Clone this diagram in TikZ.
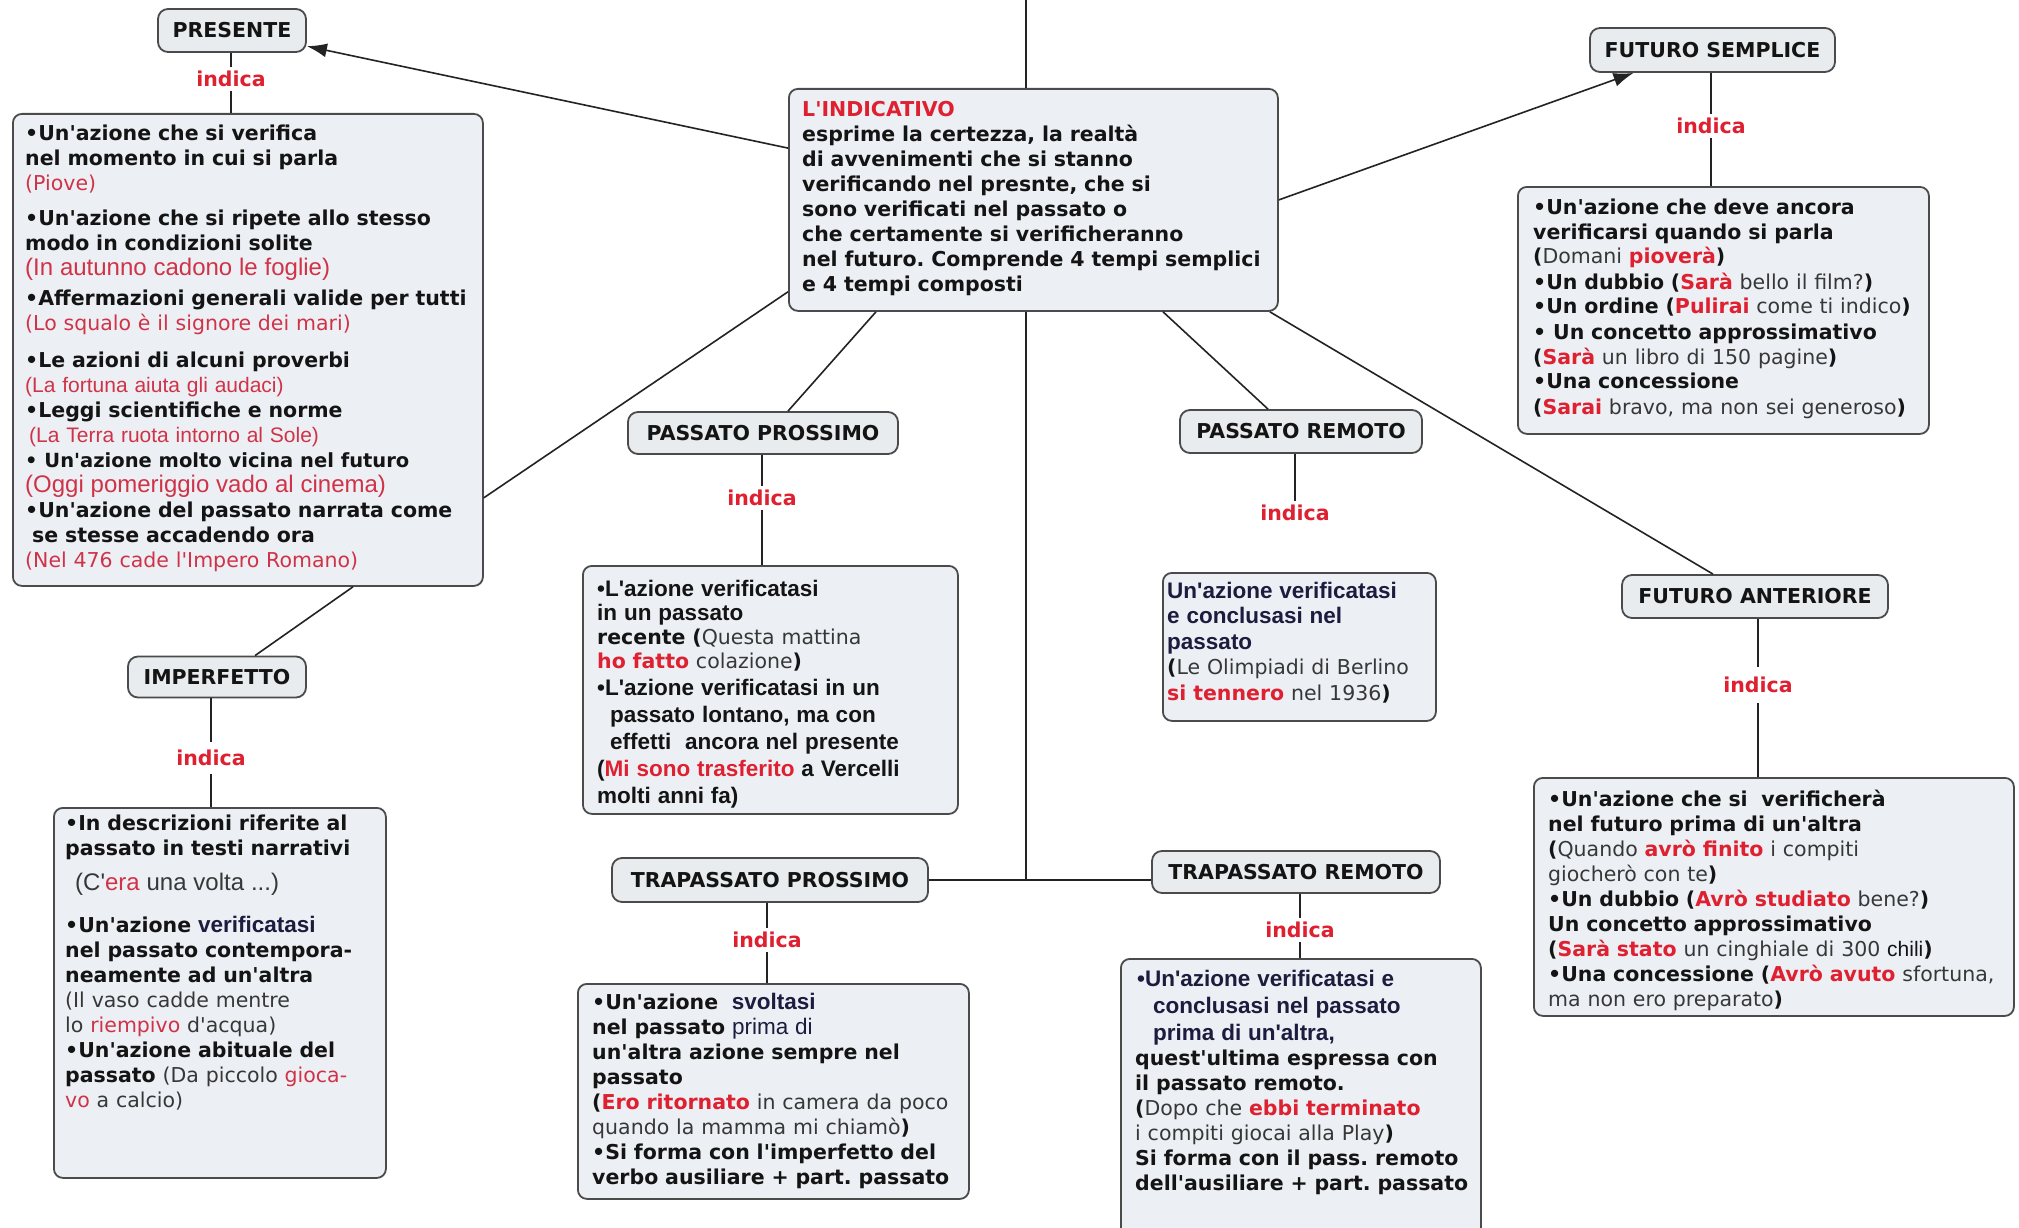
\documentclass[tikz,border=0pt]{standalone}
\usepackage{fontspec}
\setmainfont{DejaVu Sans}[Ligatures=TeXOff]
\newfontfamily\arfont{Liberation Sans}[Ligatures=TeXOff]
\usetikzlibrary{arrows.meta,calc}
\frenchspacing
\definecolor{rd}{RGB}{222,32,48}
\definecolor{rdl}{RGB}{208,50,72}
\definecolor{gtx}{RGB}{55,55,55}
\definecolor{nv}{RGB}{28,28,62}
\definecolor{txtc}{RGB}{20,20,20}
\definecolor{boxfill}{RGB}{236,240,244}
\definecolor{cfill}{RGB}{232,236,238}
\definecolor{boxdraw}{RGB}{75,75,75}
\definecolor{ln}{RGB}{35,35,35}
\newcommand{\redb}[1]{{\color{rd}\bfseries #1}}
\newcommand{\redr}[1]{{\color{rdl}\mdseries #1}}
\newcommand{\gry}[1]{{\color{gtx}\mdseries #1}}
\newcommand{\ars}[2]{{\arfont\fontsize{#1}{25}\selectfont #2}}
\newcommand{\arb}[1]{{\arfont\fontsize{22.5}{25}\selectfont #1}}
\begin{document}
\frenchspacing
\begin{tikzpicture}[x=1pt,y=-1pt,
 concept/.style={draw=boxdraw, fill=cfill, line width=1.8pt, rounded corners=10pt, font=\fontsize{20.5}{24}\selectfont\bfseries, text=txtc, inner sep=0pt},
 cbox/.style={draw=boxdraw, fill=boxfill, line width=1.8pt, rounded corners=9pt, inner sep=0pt, anchor=north west},
 txt/.style={anchor=base west, inner sep=0pt, text width=640pt, align=left, text=txtc, font=\fontsize{20.5}{25}\selectfont\bfseries\frenchspacing},
 ind/.style={text=rd, font=\fontsize{20.5}{24}\selectfont\bfseries, inner xsep=2pt, inner ysep=4pt},
 conn/.style={draw=ln, line width=1.6pt},
 arw/.style={conn, -{Latex[length=20pt,width=14pt]}}
]
\useasboundingbox (0,0) rectangle (2019,1228);
\clip (0,0) rectangle (2019,1228);
\fill[white] (0,0) rectangle (2019,1228);

% content boxes
\node[cbox, minimum width=470pt, minimum height=472pt] (presbox) at (12,113) {};
\node[cbox, minimum width=489pt, minimum height=222pt] (central) at (788,88) {};
\node[cbox, minimum width=411pt, minimum height=247pt] (fsbox) at (1517,186) {};
\node[cbox, minimum width=375pt, minimum height=248pt] (ppbox) at (582,565) {};
\node[cbox, minimum width=273pt, minimum height=148pt] (prbox) at (1162,572) {};
\node[cbox, minimum width=480pt, minimum height=238pt] (fabox) at (1533,777) {};
\node[cbox, minimum width=332pt, minimum height=370pt] (impbox) at (53,807) {};
\node[cbox, minimum width=391pt, minimum height=215pt] (tpbox) at (577,983) {};
\node[cbox, minimum width=360pt, minimum height=290pt] (trbox) at (1120,958) {};

% concept nodes
\node[concept, minimum width=148pt, minimum height=43pt] (presente) at (232,30.5) {PRESENTE};
\node[concept, minimum width=245pt, minimum height=44pt] (fs) at (1712.5,50) {FUTURO SEMPLICE};
\node[concept, minimum width=270pt, minimum height=42pt] (pp) at (763,433) {PASSATO PROSSIMO};
\node[concept, minimum width=242pt, minimum height=43pt] (pr) at (1301,431.5) {PASSATO REMOTO};
\node[concept, minimum width=266pt, minimum height=43pt] (fa) at (1755,596.5) {FUTURO ANTERIORE};
\node[concept, minimum width=178pt, minimum height=41pt] (imp) at (217,677) {IMPERFETTO};
\node[concept, minimum width=316pt, minimum height=44pt] (tp) at (770,880) {TRAPASSATO PROSSIMO};
\node[concept, minimum width=288pt, minimum height=42pt] (tr) at (1296,872) {TRAPASSATO REMOTO};

% indica labels
\node[ind] (ipres) at (231,79) {indica};
\node[ind] (ifs) at (1711,126) {indica};
\node[ind] (ipp) at (762,498) {indica};
\node[ind] (ipr) at (1295,513) {indica};
\node[ind, inner ysep=10pt] (ifa) at (1758,685) {indica};
\node[ind, inner ysep=8pt] (iimp) at (211,758) {indica};
\node[ind] (itp) at (767,940) {indica};
\node[ind] (itr) at (1300,930) {indica};

% texts
\node[txt] (presT) at (25,141) {•Un'azione che si verifica\\
nel momento in cui si parla\\
\redr{(Piove)}\\[10pt]
•Un'azione che si ripete allo stesso\\
modo in condizioni solite\\
\ars{24}{\redr{(In autunno cadono le foglie)}}\\[5pt]
•Affermazioni generali valide per tutti\\
\redr{(Lo squalo è il signore dei mari)}\\[12pt]
•Le azioni di alcuni proverbi\\
\ars{21}{\redr{(La fortuna aiuta gli audaci)}}\\
•Leggi scientifiche e norme\\
\hspace*{4pt}\ars{21}{\redr{(La Terra ruota intorno al Sole)}}\\
{\fontsize{19.5}{25}\selectfont• Un'azione molto vicina nel futuro}\\
\ars{24}{\redr{(Oggi pomeriggio vado al cinema)}}\\
•Un'azione del passato narrata come\\
\hspace*{7pt}se stesse accadendo ora\\
\redr{(Nel 476 cade l'Impero Romano)}};

\node[txt] (centralT) at (802,117) {{\color{rd}L'INDICATIVO}\\
esprime la certezza, la realtà\\
di avvenimenti che si stanno\\
verificando nel presnte, che si\\
sono verificati nel passato o\\
che certamente si verificheranno\\
nel futuro. Comprende 4 tempi semplici\\
e 4 tempi composti};

\node[txt] (fsT) at (1533,214) {•Un'azione che deve ancora\\
verificarsi quando si parla\\
(\gry{Domani }\redb{pioverà})\\
•Un dubbio (\redb{Sarà}\gry{ bello il film?})\\
•Un ordine (\redb{Pulirai}\gry{ come ti indico})\\
• Un concetto approssimativo\\
(\redb{Sarà}\gry{ un libro di 150 pagine})\\
•Una concessione\\
(\redb{Sarai}\gry{ bravo, ma non sei generoso})};

\node[txt, font=\fontsize{20.5}{27}\selectfont\bfseries] (ppT) at (597,596) {\arb{•L'azione verificatasi}\\[-3pt]
\arb{in un passato}\\[-3pt]
recente (\gry{Questa mattina}\\[-3pt]
\redb{ho fatto}\gry{ colazione})\\
\arb{•L'azione verificatasi in un}\\
\arb{\hspace*{13pt}passato lontano, ma con}\\
\arb{\hspace*{13pt}effetti\ \ ancora nel presente}\\
\arb{(\textcolor{rd}{Mi sono trasferito} a Vercelli}\\
\arb{molti anni fa)}};

\node[txt, font=\fontsize{20.5}{25.5}\selectfont\bfseries] (prT) at (1167,598) {\arb{\color{nv}Un'azione verificatasi}\\
\arb{\color{nv}e conclusasi nel}\\
\arb{\color{nv}passato}\\
(\gry{Le Olimpiadi di Berlino}\\
\redb{si tennero}\gry{ nel 1936})};

\node[txt] (faT) at (1548,806) {•Un'azione che si\ \ verificherà\\
nel futuro prima di un'altra\\
(\gry{Quando }\redb{avrò finito}\gry{ i compiti}\\
\gry{giocherò con te})\\
•Un dubbio (\redb{Avrò studiato}\gry{ bene?})\\
Un concetto approssimativo\\
(\redb{Sarà stato}\gry{ un cinghiale di 300 }{\arfont\mdseries\fontsize{21}{25}\selectfont chili})\\
•Una concessione (\redb{Avrò avuto}\gry{ sfortuna,}\\
\gry{ma non ero preparato})};

\node[txt] (impT) at (65,830) {•In descrizioni riferite al\\
passato in testi narrativi\\[10pt]
\hspace*{10pt}{\arfont\mdseries\fontsize{24}{25}\selectfont\color{gtx}(C'\textcolor{rdl}{era} una volta ...)}\\[17pt]
•Un'azione \arb{\color{nv}verificatasi}\\
nel passato contempora-\\
neamente ad un'altra\\
\gry{(Il vaso cadde mentre}\\
\gry{lo \textcolor{rdl}{riempivo} d'acqua)}\\
•Un'azione abituale del\\
passato \gry{(Da piccolo \textcolor{rdl}{gioca-}}\\
\gry{\textcolor{rdl}{vo} a calcio)}};

\node[txt] (tpT) at (592,1009) {•Un'azione\ \ \arb{\color{nv}svoltasi}\\
nel passato \arb{\mdseries\color{nv}prima di}\\
un'altra azione sempre nel\\
passato\\
(\redb{Ero ritornato}\gry{ in camera da poco}\\
\gry{quando la mamma mi chiamò})\\
•Si forma con l'imperfetto del\\
verbo ausiliare + part. passato};

\node[txt] (trT) at (1135,986) {\hspace*{2pt}\arb{\color{nv}•Un'azione verificatasi e}\\[2pt]
\hspace*{18pt}\arb{\color{nv}conclusasi nel passato}\\[2pt]
\hspace*{18pt}\arb{\color{nv}prima di un'altra,}\\
quest'ultima espressa con\\
il passato remoto.\\
(\gry{Dopo che }\redb{ebbi terminato}\\
\gry{i compiti giocai alla Play})\\
Si forma con il pass. remoto\\
dell'ausiliare + part. passato};

% connectors
\coordinate (topc) at (0,-5);
\coordinate (ctop) at ($(central.north west)+(238,0)$);
\coordinate (cbot) at ($(central.south west)+(238,0)$);
\draw[conn] (ctop) -- (ctop |- topc);
\draw[arw] (central) -- (presente);
\draw[arw] (central.east) -- ($(fs.south west)!0.18!(fs.south east)$);
\draw[conn] ($(central.south west)+(0,-20)$) -- ($(presbox.south east)+(0,-89)$);
\draw[conn] ($(central.south west)+(88,0)$) -- ($(pp.north)+(25,0)$);
\draw[conn] ($(central.south west)+(375,0)$) -- ($(pr.north)+(-33,0)$);
\draw[conn] ($(central.south east)+(-9,0)$) -- ($(fa.north)+(-42,0)$);
\draw[conn] ($(presbox.south west)+(341,0)$) -- ($(imp.north)+(38,0)$);
\draw[conn] (cbot) -- (cbot |- tp.east);
\draw[conn] (tp.east) -- (tr.west |- tp.east);

\draw[conn] (presente.south -| ipres) -- (ipres.north);
\draw[conn] (ipres.south) -- (ipres |- presbox.north);
\draw[conn] (fs.south -| ifs) -- (ifs.north);
\draw[conn] (ifs.south) -- (ifs |- fsbox.north);
\draw[conn] (pp.south -| ipp) -- (ipp.north);
\draw[conn] (ipp.south) -- (ipp |- ppbox.north);
\draw[conn] (pr.south -| ipr) -- (ipr.north);
\draw[conn] (fa.south -| ifa) -- (ifa.north);
\draw[conn] (ifa.south) -- (ifa |- fabox.north);
\draw[conn] (imp.south -| iimp) -- (iimp.north);
\draw[conn] (iimp.south) -- (iimp |- impbox.north);
\draw[conn] (tp.south -| itp) -- (itp.north);
\draw[conn] (itp.south) -- (itp |- tpbox.north);
\draw[conn] (tr.south -| itr) -- (itr.north);
\draw[conn] (itr.south) -- (itr |- trbox.north);
\end{tikzpicture}
\end{document}
